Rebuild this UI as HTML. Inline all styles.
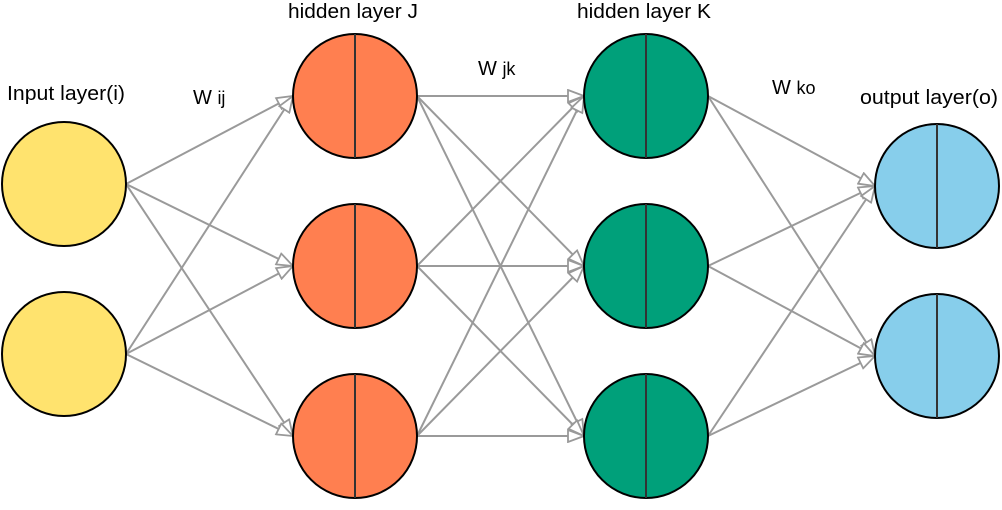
<!DOCTYPE html>
<html><head><meta charset="utf-8"><style>body{margin:0;background:#fff}svg{display:block}</style></head><body>
<svg width="1002" height="510" viewBox="0 0 1002 510" xmlns="http://www.w3.org/2000/svg" font-family="Liberation Sans, Arial, sans-serif">
<defs><marker id="a" markerWidth="18" markerHeight="14" refX="17" refY="7" orient="auto" markerUnits="userSpaceOnUse"><path d="M1,1 L17,7 L1,13 Z" fill="#fff" stroke="#999" stroke-width="1.8"/></marker></defs>
<g stroke="#9a9a9a" stroke-width="2" marker-end="url(#a)">
<line x1="126" y1="184" x2="293" y2="96"/><line x1="126" y1="184" x2="293" y2="266"/><line x1="126" y1="184" x2="293" y2="436"/>
<line x1="126" y1="354" x2="293" y2="96"/><line x1="126" y1="354" x2="293" y2="266"/><line x1="126" y1="354" x2="293" y2="436"/>
<line x1="417" y1="96" x2="584" y2="96"/><line x1="417" y1="96" x2="584" y2="266"/><line x1="417" y1="96" x2="584" y2="436"/>
<line x1="417" y1="266" x2="584" y2="96"/><line x1="417" y1="266" x2="584" y2="266"/><line x1="417" y1="266" x2="584" y2="436"/>
<line x1="417" y1="436" x2="584" y2="96"/><line x1="417" y1="436" x2="584" y2="266"/><line x1="417" y1="436" x2="584" y2="436"/>
<line x1="708" y1="96" x2="875" y2="186"/><line x1="708" y1="96" x2="875" y2="356"/>
<line x1="708" y1="266" x2="875" y2="186"/><line x1="708" y1="266" x2="875" y2="356"/>
<line x1="708" y1="436" x2="875" y2="186"/><line x1="708" y1="436" x2="875" y2="356"/>
</g>
<g stroke="#000" stroke-width="2">
<circle cx="64" cy="184" r="62" fill="#FFE36E"/><circle cx="64" cy="354" r="62" fill="#FFE36E"/>
<circle cx="355" cy="96" r="62" fill="#FF7F50"/><circle cx="355" cy="266" r="62" fill="#FF7F50"/><circle cx="355" cy="436" r="62" fill="#FF7F50"/>
<circle cx="646" cy="96" r="62" fill="#00A07A"/><circle cx="646" cy="266" r="62" fill="#00A07A"/><circle cx="646" cy="436" r="62" fill="#00A07A"/>
<circle cx="937" cy="186" r="62" fill="#87CEEB"/><circle cx="937" cy="356" r="62" fill="#87CEEB"/>
</g>
<g stroke="#333" stroke-width="2">
<line x1="355" y1="34" x2="355" y2="158"/><line x1="355" y1="204" x2="355" y2="328"/><line x1="355" y1="374" x2="355" y2="498"/>
<line x1="646" y1="34" x2="646" y2="158"/><line x1="646" y1="204" x2="646" y2="328"/><line x1="646" y1="374" x2="646" y2="498"/>
<line x1="937" y1="124" x2="937" y2="248"/><line x1="937" y1="294" x2="937" y2="418"/>
</g>
<g font-size="20" fill="#000">
<text x="7" y="100" textLength="118" lengthAdjust="spacingAndGlyphs">Input layer(i)</text>
<text x="193" y="104">W <tspan font-size="18">ij</tspan></text>
<text x="288" y="18" textLength="130" lengthAdjust="spacingAndGlyphs">hidden layer J</text>
<text x="478" y="75">W <tspan font-size="18">jk</tspan></text>
<text x="577" y="18" textLength="134" lengthAdjust="spacingAndGlyphs">hidden layer K</text>
<text x="772" y="94">W <tspan font-size="18">ko</tspan></text>
<text x="860" y="104" textLength="138" lengthAdjust="spacingAndGlyphs">output layer(o)</text>
</g>
</svg>
</body></html>
